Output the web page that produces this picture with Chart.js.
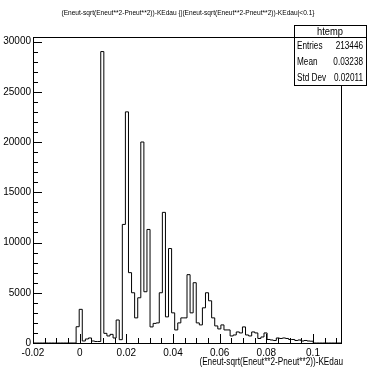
<!DOCTYPE html>
<html>
<head>
<meta charset="utf-8">
<script src="https://cdn.jsdelivr.net/npm/chart.js@4.4.1/dist/chart.umd.min.js"></script>
<style>
html,body{margin:0;padding:0;background:#fff;}
#wrap{position:relative;width:371px;height:371px;}
</style>
</head>
<body>
<div id="wrap"><canvas id="c" width="371" height="371"></canvas></div>
<script>
// ---- data ----
const histTitle = "(Eneut-sqrt(Eneut**2-Pneut**2))-KEdau {|(Eneut-sqrt(Eneut**2-Pneut**2))-KEdau|<0.1}";
const xAxisTitle = "(Eneut-sqrt(Eneut**2-Pneut**2))-KEdau";
const xMin = -0.02;
const xMax = 0.112;
const nBins = 100;
const xTickValues = [-0.02, 0, 0.02, 0.04, 0.06, 0.08, 0.1];
const xTickLabels = ["-0.02", "0", "0.02", "0.04", "0.06", "0.08", "0.1"];
const yTickValues = [0, 5000, 10000, 15000, 20000, 25000, 30000];
const yTickLabels = ["0", "5000", "10000", "15000", "20000", "25000", "30000"];
const yMax = 30450;
const counts = [
  0,0,0,0,0,0,0,0,0,0,
  0,0,0,0,1620,3350,200,400,500,200,
  150,150,29000,960,700,860,500,2290,330,11800,
  23000,7000,5000,2500,4500,20000,5100,11300,1600,1950,
  2000,5000,13000,2600,9400,3000,1300,2000,2500,2500,
  6800,3000,6000,2000,1800,3500,5000,4200,2500,1700,
  1400,1800,1300,1300,700,800,1100,1000,1600,800,
  700,1100,1000,450,600,1000,350,300,250,500,
  450,500,450,350,350,250,300,200,250,200,
  180,0,0,0,0,0,0,0,0,0
];
const statsName = "htemp";
const statsLabels = ["Entries", "Mean", "Std Dev"];
const statsValues = ["213446", "0.03238", "0.02011"];

// ---- build step points from bins ----
const binW = (xMax - xMin) / nBins;
const pts = counts.map((v, i) => ({x: xMin + i * binW, y: v}));
pts.push({x: xMax, y: 0});

const FONT = "'Liberation Sans', Arial, sans-serif";

function narrowText(ctx, text, x, y, align, sx) {
  ctx.save();
  ctx.translate(x, y);
  ctx.scale(sx, 1);
  ctx.textAlign = align;
  ctx.fillText(text, 0, 0);
  ctx.restore();
}

const rootDecor = {
  id: 'rootDecor',
  afterDraw(chart) {
    const ctx = chart.ctx;
    const a = chart.chartArea;
    const xs = chart.scales.x, ys = chart.scales.y;
    ctx.save();
    ctx.strokeStyle = '#000';
    ctx.lineWidth = 1;
    ctx.strokeRect(Math.round(a.left) + 0.5, Math.round(a.top) + 0.5,
                   Math.round(a.right - a.left), Math.round(a.bottom - a.top));
    ctx.beginPath();
    for (let k = 0; ; k++) {
      const v = xMin + k * 0.005;
      if (v > xMax + 1e-9) break;
      const px = Math.round(xs.getPixelForValue(v)) + 0.5;
      const len = (k % 4 === 0) ? 9 : 5;
      ctx.moveTo(px, a.bottom);
      ctx.lineTo(px, a.bottom - len);
    }
    for (let v = 0; v <= yMax; v += 1000) {
      const py = Math.round(ys.getPixelForValue(v)) + 0.5;
      const len = (v % 5000 === 0) ? 9 : 5;
      ctx.moveTo(a.left, py);
      ctx.lineTo(a.left + len, py);
    }
    ctx.stroke();
    ctx.fillStyle = '#000';
    ctx.textBaseline = 'middle';
    ctx.font = '7px ' + FONT;
    narrowText(ctx, histTitle, 188, 13, 'center', 0.94);
    ctx.font = '10px ' + FONT;
    narrowText(ctx, xAxisTitle, a.right + 2, 362, 'right', 0.82);
    const bx = 294, by = 25, bw = 72, bh = 60;
    ctx.fillStyle = '#fff';
    ctx.fillRect(bx, by, bw, bh);
    ctx.strokeRect(bx + 0.5, by + 0.5, bw, bh);
    const hh = 12;
    ctx.beginPath();
    ctx.moveTo(bx, by + hh + 0.5);
    ctx.lineTo(bx + bw, by + hh + 0.5);
    ctx.stroke();
    ctx.fillStyle = '#000';
    ctx.font = '11px ' + FONT;
    narrowText(ctx, statsName, bx + bw / 2, by + hh / 2 + 1, 'center', 0.85);
    ctx.font = '10px ' + FONT;
    const rowH = (bh - hh) / 3;
    statsLabels.forEach((lab, i) => {
      const cy = by + hh + rowH * (i + 0.5) + 1;
      narrowText(ctx, lab, bx + 3, cy, 'left', 0.82);
      narrowText(ctx, statsValues[i], bx + bw - 3, cy, 'right', 0.82);
    });
    ctx.restore();
  }
};

new Chart(document.getElementById('c'), {
  type: 'line',
  data: {
    datasets: [{
      data: pts,
      stepped: 'before',
      borderColor: '#000',
      borderWidth: 1,
      pointRadius: 0,
      fill: false,
      tension: 0
    }]
  },
  options: {
    responsive: false,
    animation: false,
    events: [],
    layout: {padding: {top: 37, right: 30, left: 0, bottom: 0}},
    plugins: {legend: {display: false}, tooltip: {enabled: false}, title: {display: false}},
    scales: {
      x: {
        type: 'linear',
        min: xMin,
        max: xMax,
        grid: {display: false, drawTicks: false},
        border: {display: false},
        afterBuildTicks(scale) { scale.ticks = xTickValues.map(v => ({value: v})); },
        afterFit(scale) { scale.height = 28; },
        ticks: {
          autoSkip: false,
          maxRotation: 0,
          padding: 4,
          color: '#000',
          font: {family: FONT, size: 10},
          callback(value) { const i = xTickValues.findIndex(t => Math.abs(t - value) < 1e-9); return i >= 0 ? xTickLabels[i] : ''; }
        }
      },
      y: {
        type: 'linear',
        min: 0,
        max: yMax,
        grid: {display: false, drawTicks: false},
        border: {display: false},
        afterBuildTicks(scale) { scale.ticks = yTickValues.map(v => ({value: v})); },
        afterFit(scale) { scale.width = 33; },
        ticks: {
          autoSkip: false,
          padding: 2,
          color: '#000',
          font: {family: FONT, size: 10},
          callback(value) { const i = yTickValues.indexOf(value); return i >= 0 ? yTickLabels[i] : ''; }
        }
      }
    }
  },
  plugins: [rootDecor]
});
</script>
</body>
</html>
